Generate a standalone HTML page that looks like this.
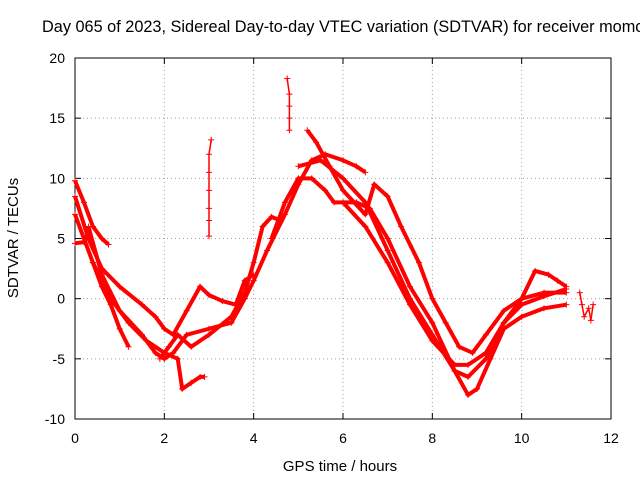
<!DOCTYPE html>
<html><head><meta charset="utf-8"><style>
body{margin:0;background:#fff}
svg{display:block;font-family:"Liberation Sans",sans-serif}
</style></head><body>
<svg id="chart" width="640" height="480" viewBox="0 0 640 480">
<text x="42" y="32" font-size="16.3" fill="#000">Day 065 of 2023, Sidereal Day-to-day VTEC variation (SDTVAR) for receiver momo</text>
<g id="grid"></g>
<g id="axes"></g>
<g id="series"></g>
<text x="340" y="471" font-size="15" text-anchor="middle">GPS time / hours</text>
<text transform="translate(18,238) rotate(-90)" font-size="15" text-anchor="middle">SDTVAR / TECUs</text>
</svg>
<script>
const xTicks=[0,2,4,6,8,10,12];
const yTicks=[-10,-5,0,5,10,15,20];
const t1=[[0,9.8],[0.2,8],[0.4,6],[0.6,5],[0.75,4.5]];
const t1b=[[0,4.6],[0.2,4.7],[0.3,5.5]];
const t2=[[0,7],[0.2,5],[0.4,3],[0.6,1],[0.8,-0.5],[1,-2.5],[1.2,-4]];
const t3=[[0,8.5],[0.3,5],[0.6,2.5],[1,1],[1.5,-0.5],[1.8,-1.5],[2,-2.5],[2.2,-3],[2.5,-1],[2.8,1],[3,0.3],[3.3,-0.2],[3.6,-0.5],[3.8,1.5],[4,2]];
const t4=[[0.3,6],[0.6,2],[1,-1],[1.5,-3],[1.8,-4.5],[2,-5],[2.2,-4.5],[2.5,-3],[3,-2.5],[3.5,-2],[3.8,0],[4,1.5],[4.3,4],[4.7,7],[5,9.5],[5.3,11.5],[5.6,12],[6,11.5],[6.3,11],[6.5,10.5]];
const t5=[[0.4,3],[0.8,0],[1.2,-2],[1.6,-3.5],[2,-4.5],[2.3,-5],[2.4,-7.5],[2.6,-7],[2.8,-6.5],[2.9,-6.5]];
const t6=[[1.9,-5],[2.1,-4],[2.3,-3],[2.6,-4],[3,-3],[3.5,-1.5],[3.8,0.5],[4,3],[4.2,6],[4.4,6.8],[4.6,6.5]];
const t7=[[4.4,5],[4.7,8],[5,10],[5.3,10],[5.6,9],[5.8,8],[6,8],[6.3,8],[6.6,7.5],[7,5],[7.5,1],[8,-2],[8.5,-6],[8.8,-8],[9,-7.5],[9.3,-5],[9.6,-2.5],[10,-1.5],[10.5,-0.8],[11,-0.5]];
const t8=[[5,11],[5.5,11.5],[6,10],[6.5,8],[7,4],[7.5,0],[8,-3],[8.5,-6],[8.8,-6.5],[9.2,-5],[9.6,-2],[10,0],[10.5,0.5],[11,0.5]];
const t9=[[5.2,14],[5.4,13],[5.7,11],[6,9],[6.5,7],[6.7,9.5],[7,8.5],[7.3,6],[7.7,3],[8,0],[8.3,-2],[8.6,-4],[8.9,-4.5],[9.2,-3],[9.6,-1],[10,0],[10.3,2.3],[10.6,2],[10.8,1.5],[11,1]];
const t10=[[6,8],[6.5,6],[7,3],[7.5,-0.5],[8,-3.5],[8.5,-5.5],[8.8,-5.5],[9.2,-4.5],[9.6,-2],[10,-0.5],[10.5,0.2],[11,0.8]];
const spike1=[[3,5.2],[3,6.5],[3,7.5],[3,9],[3,10.5],[3,12],[3.05,13.2]];
const spike2=[[4.8,14],[4.8,15],[4.8,16],[4.8,17],[4.75,18.3]];
const tail=[[11.3,0.5],[11.35,-0.5],[11.4,-1.5],[11.5,-0.8],[11.55,-1.8],[11.6,-0.5]];
const tracks=[t1,t1b,t2,t3,t4,t5,t6,t7,t8,t9,t10];
const scatters=[spike1,spike2,tail];
const X0=75,X1=611,Y0=419,Y1=58;
const xs=h=>X0+(h-0)/12*(X1-X0);
const ys=v=>Y0-(v+10)/30*(Y0-Y1);
const NS="http://www.w3.org/2000/svg";
function mk(tag,attrs,parent){const e=document.createElementNS(NS,tag);for(const k in attrs)e.setAttribute(k,attrs[k]);parent.appendChild(e);return e;}
const grid=document.getElementById('grid'),axes=document.getElementById('axes'),ser=document.getElementById('series');
xTicks.forEach(t=>{const x=xs(t);
 if(t>0&&t<12){const l=mk('line',{x1:x,x2:x,y1:Y1,y2:Y0,stroke:'#a0a0a0','stroke-dasharray':'1,3'},grid);}
 const tx=mk('text',{x:x,y:Y0+24,'font-size':14,'text-anchor':'middle'},axes);tx.textContent=t;
 
 
 mk('line',{x1:x,x2:x,y1:Y0,y2:Y0-6,stroke:'#000'},axes);mk('line',{x1:x,x2:x,y1:Y1,y2:Y1+6,stroke:'#000'},axes);});
yTicks.forEach(t=>{const y=ys(t);
 if(t>-10&&t<20){const l=mk('line',{x1:X0,x2:X1,y1:y,y2:y,stroke:'#a0a0a0','stroke-dasharray':'1,3'},grid);}
 const tx=mk('text',{x:X0-10,y:y+5,'font-size':14,'text-anchor':'end'},axes);tx.textContent=t;
 
 
 mk('line',{x1:X0,x2:X0+6,y1:y,y2:y,stroke:'#000'},axes);mk('line',{x1:X1,x2:X1-6,y1:y,y2:y,stroke:'#000'},axes);});
const fr=mk('rect',{x:X0,y:Y1,width:X1-X0,height:Y0-Y1,fill:'none',stroke:'#000'},axes);


function plus(h,v,g){const x=xs(h),y=ys(v);mk('path',{d:`M${x-3} ${y}h6M${x} ${y-3}v6`,stroke:'#f00','stroke-width':1},g);}
tracks.forEach((tr,i)=>{const g=mk('g',{},ser);
 
 
 mk('polyline',{points:tr.map(p=>xs(p[0])+','+ys(p[1])).join(' '),fill:'none',stroke:'#f00','stroke-width':4,'stroke-linejoin':'round'},g);
 tr.forEach(p=>plus(p[0],p[1],g));});
scatters.forEach((tr,i)=>{const g=mk('g',{},ser);
 
 
 tr.forEach(p=>plus(p[0],p[1],g));
 for(let k=0;k+1<tr.length;k++)mk('line',{x1:xs(tr[k][0]),y1:ys(tr[k][1]),x2:xs(tr[k+1][0]),y2:ys(tr[k+1][1]),stroke:'#f00','stroke-width':1.5},g);});
</script>
</body></html>
